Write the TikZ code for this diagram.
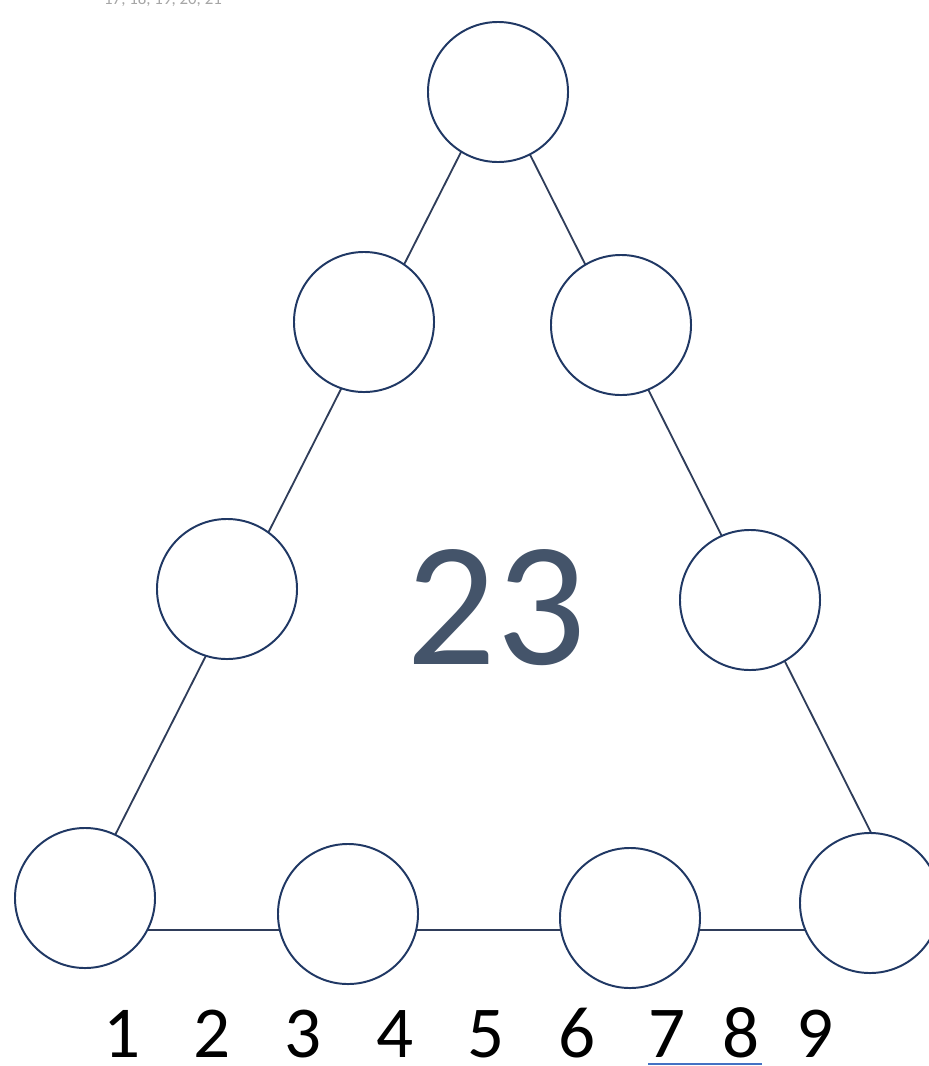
\documentclass[tikz,border=0pt]{standalone}
\usepackage{fontspec}
\setmainfont{Carlito}
\definecolor{ringcol}{HTML}{203864}
\definecolor{edgecol}{HTML}{2F3D5A}
\definecolor{bigcol}{HTML}{44546A}
\definecolor{ulcol}{HTML}{4472C4}
\definecolor{faint}{HTML}{A6A6A6}
\begin{document}
\begin{tikzpicture}[x=0.025cm,y=-0.025cm,
  ring/.style={circle,draw=ringcol,line width=1.4pt,fill=white,minimum size=3.5cm,inner sep=0pt},
  edge/.style={draw=edgecol,line width=1.3pt},
  digit/.style={anchor=base,inner sep=0pt,font=\fontsize{52}{56}\selectfont,text=black}]
\useasboundingbox (0,0) rectangle (928,1066);
% triangle corners (hidden under the rings)
\coordinate (apex) at (495,85);
\coordinate (bl) at (67,930);
\coordinate (br) at (920,930);
\draw[edge] (apex) -- (bl) -- (br) -- cycle;
% rings
\node[ring] (t)  at (498,92) {};
\node[ring] (l2) at (364,322) {};
\node[ring] (r2) at (621,325) {};
\node[ring] (l3) at (227,589) {};
\node[ring] (r3) at (750,600) {};
\node[ring] (b1) at (85,898) {};
\node[ring] (b2) at (348,914) {};
\node[ring] (b3) at (630,918) {};
\node[ring] (b4) at (870,903) {};
% big number
\node[anchor=base,inner sep=0pt,text=bigcol,font=\fontsize{126}{130}\selectfont] (big) at (496,664) {23};
% faint cropped text at top
\node[anchor=base,inner sep=0pt,text=faint,font=\fontsize{12}{14}\selectfont] (top) at (163,4) {17, 18, 19, 20, 21};
% digits
\node[digit] (d1) at (122,1057) {1};
\node[digit] (d2) at (212,1057) {2};
\node[digit] (d3) at (303,1057) {3};
\node[digit] (d4) at (395,1057) {4};
\node[digit] (d5) at (486,1057) {5};
\node[digit] (d6) at (577,1057) {6};
\node[digit] (d7) at (667,1057) {7};
\node[digit] (d8) at (741,1057) {8};
\node[digit] (d9) at (815,1057) {9};
\coordinate (u1) at (648,1064);
\coordinate (u2) at (762,1064);
\draw[draw=ulcol,line width=0.8pt] (u1) -- (u2);
\end{tikzpicture}
\end{document}
